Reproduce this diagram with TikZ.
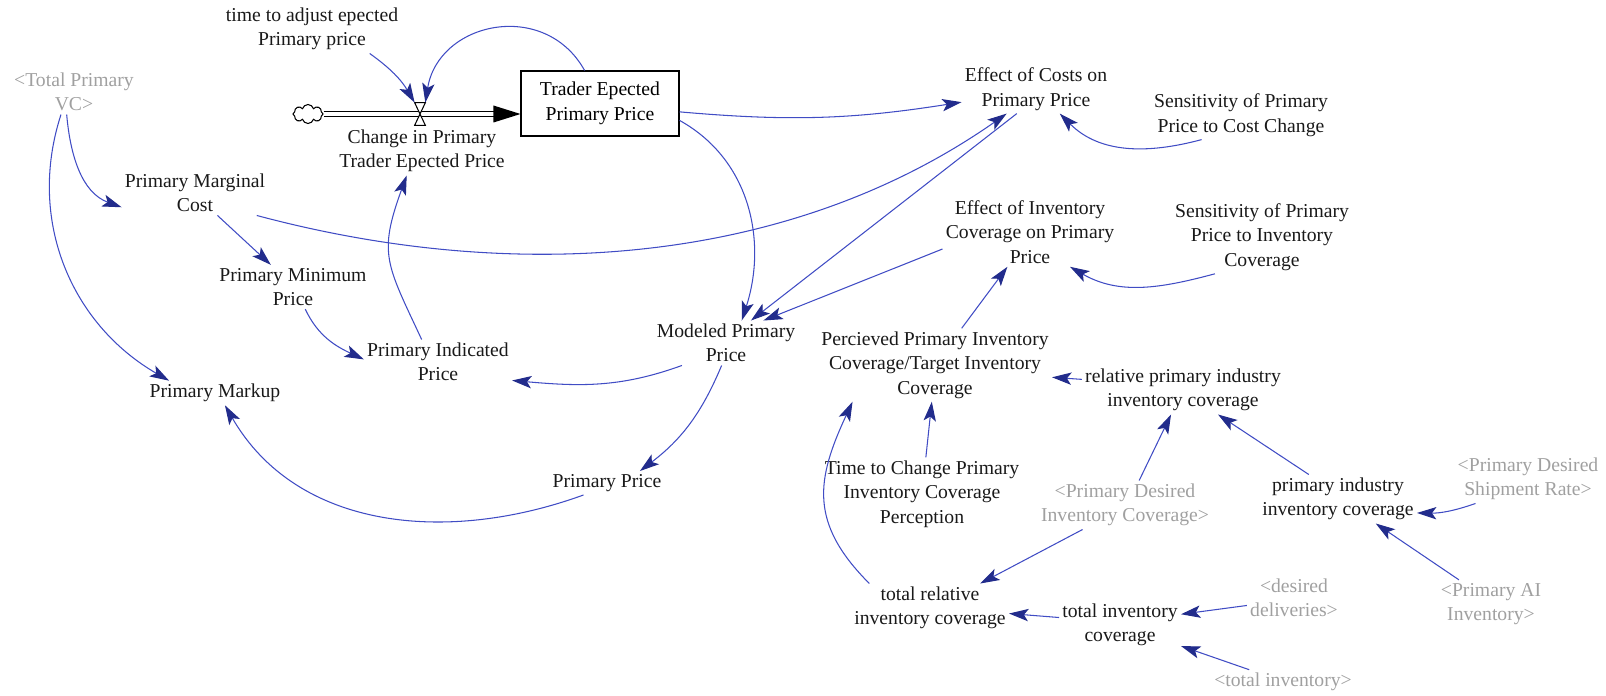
\documentclass[tikz,border=0pt]{standalone}
\usepackage{fontspec}
\setmainfont{Liberation Serif}
\usepackage{xcolor}
\usepackage{tikz}
\usetikzlibrary{arrows.meta, shapes.symbols}

\definecolor{linkblue}{RGB}{64,76,196}
\definecolor{headblue}{RGB}{34,44,140}
\definecolor{shadowgray}{RGB}{160,160,160}

\begin{document}
\begin{tikzpicture}[
        x=0.02cm, y=0.02cm,
        var/.style = {align=center, inner sep=1.7pt, font=\fontsize{11.2}{13.9}\selectfont, text=black!90},
        ghost/.style = {var, text=shadowgray},
        stock/.style = {rectangle, draw, line width=0.6pt, minimum width=3.16cm, minimum height=1.3cm, align=center, font=\fontsize{11.2}{13.9}\selectfont},
        cloudy/.style = {cloud, draw, cloud puffs=8, aspect=1.6, minimum width=0.6cm, minimum height=0.38cm, inner sep=0pt, line width=0.6pt},
        valve/.style = {inner sep=0pt, minimum width=0.2cm, minimum height=0.44cm},
        pipe/.style = {double, double distance=2.4pt, line width=0.6pt, shorten >=0.4cm},
        link/.style = {-{Stealth[length=11pt, width=7pt, inset=2.5pt, color=headblue]}, draw=linkblue, line width=0.6pt}
    ]
        \useasboundingbox (0,0) rectangle (1606,-696);

        % Stock and flow
        \node [stock] (stock) at (600,-103.5) {Trader Epected\\Primary Price};
        \node [cloudy] (cloud) at (308,-114) {};
        \node [valve] (valve) at (420,-114) {};
        \coordinate (inlet) at (stock.west |- valve);
        \node [var] (chg) at (422,-151) {Change in Primary\\Trader Epected Price};
        \node [var] (tadj) at (312,-29) {time to adjust epected\\Primary price};

        \draw [pipe] (cloud) -- (inlet);
        \fill (inlet) -- ++(-27,8.5) -- ++(0,-17) -- cycle;
        \draw [fill=white, line width=0.6pt] (valve.north west) -- (valve.north east) -- (valve.south west) -- (valve.south east) -- cycle;

        % Cost side
        \node [ghost] (vc) at (74,-92) {<Total Primary\\VC>};
        \node [var] (pmc) at (195,-193) {Primary Marginal\\Cost};
        \node [var] (pmin) at (293,-287) {Primary Minimum\\Price};
        \node [var] (pind) at (438,-362) {Primary Indicated\\Price};
        \node [var] (pmk) at (215,-393) {Primary Markup};
        \node [var] (mod) at (726,-343) {Modeled Primary\\Price};
        \node [var] (ppr) at (607,-483) {Primary Price};
        \node [var] (eco) at (1036,-89) {Effect of Costs on\\Primary Price};
        \node [var] (sco) at (1241,-115) {Sensitivity of Primary\\Price to Cost Change};
        \node [var] (eic) at (1030,-232) {Effect of Inventory\\Coverage on Primary\\Price};
        \node [var] (sic) at (1262,-237) {Sensitivity of Primary\\Price to Inventory\\Coverage};

        % Inventory coverage side
        \node [var] (perc) at (935,-365) {Percieved Primary Inventory\\Coverage/Target Inventory\\Coverage};
        \node [var] (rel) at (1183,-390) {relative primary industry\\inventory coverage};
        \node [var] (ttc) at (922,-494) {Time to Change Primary\\Inventory Coverage\\Perception};
        \node [ghost] (pdic) at (1125,-505) {<Primary Desired\\Inventory Coverage>};
        \node [var] (pic) at (1338,-499) {primary industry\\inventory coverage};
        \node [ghost] (pdsr) at (1528,-479) {<Primary Desired\\Shipment Rate>};
        \node [var] (trc) at (930,-608) {total relative\\inventory coverage};
        \node [var] (tic) at (1120,-625) {total inventory\\coverage};
        \node [ghost] (dd) at (1294,-598) {<desired\\deliveries>};
        \node [ghost] (pai) at (1491,-604) {<Primary AI\\Inventory>};
        \node [ghost] (ti) at (1283,-682) {<total inventory>};

        % Links
        \draw [link] (tadj.-23) to[bend left=12] (valve.north west);
        \draw [link] (stock.115) to[out=119, in=81, looseness=1.29] (valve.north east);
        \draw [link] (stock.-6) to[bend right=7] (eco.190);
        \draw [link] (stock.-12) to[out=-29, in=72] (mod.55);
        \draw [link] (pmc.-20) to[out=-15, in=215, looseness=0.9] (eco.220);
        \draw [link] (eco.232) -- (mod.42);
        \draw [link] (eic.191) -- (mod.31);
        \draw [link] (sco.212) to[out=195, in=-45] (eco.-46);
        \draw [link] (sic.218) to[out=195, in=-30] (eic.-41);
        \draw [link] (perc.54) -- (eic.237);
        \draw [link] (vc.252) to[out=-85, in=160] (pmc.191);
        \draw [link] (vc.240) to[out=-108, in=150] (pmk.165);
        \draw [link] (pmc.-45) -- (pmin.135);
        \draw [link] (pmin.-61) to[out=-65, in=155] (pind.178);
        \draw [link] (pind.126) to[out=115, in=-110, looseness=1.3] (chg.238);
        \draw [link] (mod.207) to[out=200, in=-5] (pind.-14);
        \draw [link] (mod.259) to[bend left=15] (ppr.20);
        \draw [link] (ppr.207) to[out=200, in=-60] (pmk.-51);
        \draw [link] (ttc.84) -- (perc.265);
        \draw [link] (rel.174) -- (perc.-6);
        \draw [link] (trc.158) to[out=135, in=-115, looseness=1.2] (perc.204);
        \draw [link] (pdic.60) -- (rel.244);
        \draw [link] (pic.140) -- (rel.-35);
        \draw [link] (pdsr.205) to[bend left=10] (pic.-10);
        \draw [link] (pai.143) -- (pic.-33);
        \draw [link] (pdic.210) -- (trc.26);
        \draw [link] (tic.173) -- (trc.-4);
        \draw [link] (dd.189) -- (tic.10);
        \draw [link] (ti.160) -- (tic.-19);

    \end{tikzpicture}
\end{document}
